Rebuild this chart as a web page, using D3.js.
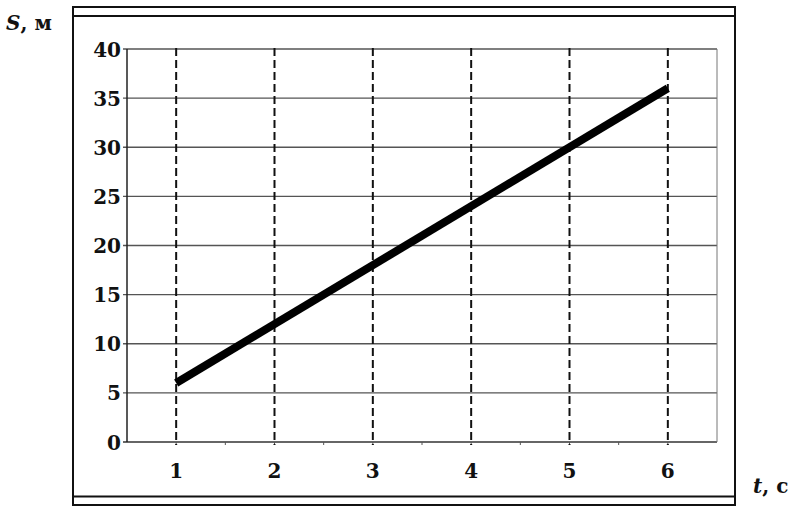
<!DOCTYPE html>
<html>
<head>
<meta charset="utf-8">
<script src="https://cdn.jsdelivr.net/npm/d3@7"></script>
<style>
  body { margin: 0; background: #fff; }
  text { font-family: "DejaVu Serif", "Liberation Serif", serif; fill: #111; }
</style>
</head>
<body>
<div id="chart"></div>
<script>
// t, s
var tValues = [1, 6];
// S, m
var sValues = [6, 36];
var xTicks = [1, 2, 3, 4, 5, 6];
var yTicks = [0, 5, 10, 15, 20, 25, 30, 35, 40];
var xLabel = "t, с";
var yLabel = "S, м";

var W = 790, H = 512;
var plot = {left: 127, right: 717, top: 49, bottom: 442};

var svg = d3.select("#chart").append("svg")
  .attr("width", W).attr("height", H);

// frame with double rules
var fr = {l: 73, r: 735, t: 7, b: 505};
svg.append("rect")
  .attr("x", fr.l).attr("y", fr.t)
  .attr("width", fr.r - fr.l).attr("height", fr.b - fr.t)
  .attr("fill", "none").attr("stroke", "#111").attr("stroke-width", 2);
svg.append("line").attr("x1", fr.l).attr("x2", fr.r).attr("y1", 16).attr("y2", 16)
  .attr("stroke", "#111").attr("stroke-width", 2);
svg.append("line").attr("x1", fr.l).attr("x2", fr.r).attr("y1", 496.5).attr("y2", 496.5)
  .attr("stroke", "#111").attr("stroke-width", 2);

var x = d3.scaleLinear().domain([0.5, 6.5]).range([plot.left, plot.right]);
var y = d3.scaleLinear().domain([0, 40]).range([plot.bottom, plot.top]);

// horizontal grid
svg.append("g").selectAll("line").data(yTicks).join("line")
  .attr("x1", plot.left - 4).attr("x2", plot.right)
  .attr("y1", function(d) { return y(d); }).attr("y2", function(d) { return y(d); })
  .attr("stroke", function(d) { return d === 0 ? "#333" : "#555"; })
  .attr("stroke-width", 1.3);

// right edge
svg.append("line")
  .attr("x1", plot.right).attr("x2", plot.right)
  .attr("y1", plot.top).attr("y2", plot.bottom)
  .attr("stroke", "#777").attr("stroke-width", 1);

// left axis
svg.append("line")
  .attr("x1", plot.left).attr("x2", plot.left)
  .attr("y1", plot.top).attr("y2", plot.bottom)
  .attr("stroke", "#222").attr("stroke-width", 1.5);

// small ticks under the bottom axis
svg.append("g").selectAll("line").data(d3.range(1, 13).map(function(i) { return i / 2 + 0.5; }).filter(function(d) { return d < 6.5; }))
  .join("line")
  .attr("x1", function(d) { return x(d); }).attr("x2", function(d) { return x(d); })
  .attr("y1", plot.bottom).attr("y2", plot.bottom + 3)
  .attr("stroke", "#555").attr("stroke-width", 1);

// dashed verticals
svg.append("g").selectAll("line").data(xTicks).join("line")
  .attr("x1", function(d) { return x(d); }).attr("x2", function(d) { return x(d); })
  .attr("y1", plot.top - 1).attr("y2", plot.bottom + 3)
  .attr("stroke", "#111").attr("stroke-width", 2)
  .attr("stroke-dasharray", "8,4");

// tick labels
svg.append("g").selectAll("text").data(yTicks).join("text")
  .attr("x", plot.left - 6).attr("y", function(d) { return y(d) + 7.5; })
  .attr("text-anchor", "end").attr("font-size", 20).attr("font-weight", "bold")
  .text(function(d) { return d; });

svg.append("g").selectAll("text").data(xTicks).join("text")
  .attr("x", function(d) { return x(d); }).attr("y", 478)
  .attr("text-anchor", "middle").attr("font-size", 20).attr("font-weight", "bold")
  .text(function(d) { return d; });

// axis titles
svg.append("text").attr("x", 6).attr("y", 30).attr("font-size", 20).attr("font-weight", "bold")
  .html('<tspan font-style="italic">S</tspan>, м');
svg.append("text").attr("x", 753).attr("y", 493).attr("font-size", 20).attr("font-weight", "bold")
  .html('<tspan font-style="italic">t</tspan>, с');

// data line
var pts = tValues.map(function(t, i) { return {t: t, s: sValues[i]}; });
svg.append("path").datum(pts)
  .attr("fill", "none").attr("stroke", "#000").attr("stroke-width", 8)
  .attr("d", d3.line()
    .x(function(d) { return x(d.t); })
    .y(function(d) { return y(d.s); }));
</script>
</body>
</html>
